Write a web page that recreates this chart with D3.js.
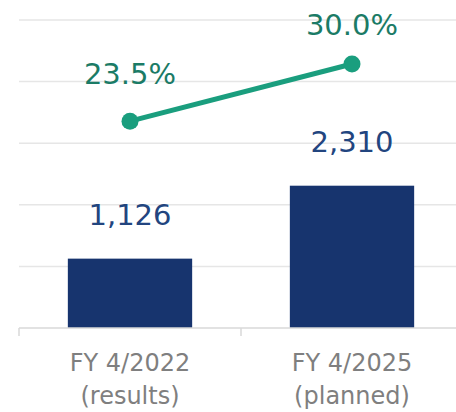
<!DOCTYPE html>
<html>
<head>
<meta charset="utf-8">
<script src="https://cdn.jsdelivr.net/npm/d3@7"></script>
<style>
  html, body { margin: 0; padding: 0; background: #fff; }
  svg { display: block; font-family: "DejaVu Sans", Verdana, sans-serif; }
</style>
</head>
<body>
<svg id="chart" width="456" height="412"></svg>
<script>
// Fiscal years shown on the category axis (two lines each)
const categories = ["FY 4/2022", "FY 4/2025"];
const categoryNotes = ["(results)", "(planned)"];
// Bar series (left axis) and ratio series (right axis, in %)
const barValues = [1126, 2310];
const ratioValues = [23.5, 30.0];
// Gridline ticks for the left axis
const barTicks = [0, 1000, 2000, 3000, 4000, 5000];

const svg = d3.select("#chart");
const plot = { left: 19, right: 463, top: 20, bottom: 328 };

const x = d3.scaleBand()
  .domain(categories)
  .range([plot.left, plot.right])
  .padding(0);

const y = d3.scaleLinear().domain([0, 5000]).range([plot.bottom, plot.top]);
const y2 = d3.scaleLinear().domain([0, 35]).range([plot.bottom, plot.top]);

const barWidth = x.bandwidth() * 0.56;
const cx = c => x(c) + x.bandwidth() / 2;

// horizontal gridlines
svg.append("g")
  .selectAll("line")
  .data(barTicks.filter(t => t > 0))
  .join("line")
  .attr("x1", plot.left).attr("x2", plot.right)
  .attr("y1", d => y(d)).attr("y2", d => y(d))
  .attr("stroke", "#e6e6e6")
  .attr("stroke-width", 1.5);

// bars
svg.append("g")
  .selectAll("rect")
  .data(barValues)
  .join("rect")
  .attr("x", (d, i) => cx(categories[i]) - barWidth / 2)
  .attr("y", d => y(d))
  .attr("width", barWidth)
  .attr("height", d => y(0) - y(d))
  .attr("fill", "#17346e");

// category axis with tick marks on the band boundaries
const xAxis = svg.append("g").attr("transform", `translate(0,${plot.bottom})`);
xAxis.append("line")
  .attr("x1", plot.left).attr("x2", plot.right)
  .attr("y1", 0).attr("y2", 0)
  .attr("stroke", "#d9d9d9").attr("stroke-width", 1.5);
xAxis.selectAll("line.tick")
  .data(categories.map(c => x(c)).concat([x(categories[categories.length - 1]) + x.bandwidth()]))
  .join("line")
  .attr("class", "tick")
  .attr("x1", d => d).attr("x2", d => d)
  .attr("y1", 0).attr("y2", 8)
  .attr("stroke", "#d9d9d9").attr("stroke-width", 1.5);

const labels = svg.append("g")
  .attr("fill", "#7f7f7f")
  .attr("font-size", 24)
  .attr("text-anchor", "middle");
labels.selectAll("text.cat")
  .data(categories)
  .join("text")
  .attr("class", "cat")
  .attr("x", d => cx(d))
  .attr("y", 371)
  .text(d => d);
labels.selectAll("text.note")
  .data(categoryNotes)
  .join("text")
  .attr("class", "note")
  .attr("x", (d, i) => cx(categories[i]))
  .attr("y", 404)
  .text(d => d);

// bar value labels
svg.append("g")
  .selectAll("text")
  .data(barValues)
  .join("text")
  .attr("x", (d, i) => cx(categories[i]))
  .attr("y", d => y(d) - 34)
  .attr("text-anchor", "middle")
  .attr("font-size", 29)
  .attr("fill", "#22457f")
  .text(d => d3.format(",")(d));

// ratio line with markers
const line = d3.line()
  .x((d, i) => cx(categories[i]))
  .y(d => y2(d));
svg.append("path")
  .datum(ratioValues)
  .attr("d", line)
  .attr("fill", "none")
  .attr("stroke", "#1a9e7e")
  .attr("stroke-width", 5);
svg.append("g")
  .selectAll("circle")
  .data(ratioValues)
  .join("circle")
  .attr("cx", (d, i) => cx(categories[i]))
  .attr("cy", d => y2(d))
  .attr("r", 8.5)
  .attr("fill", "#1a9e7e");

// ratio labels, kept inside the top of the chart area
svg.append("g")
  .selectAll("text")
  .data(ratioValues)
  .join("text")
  .attr("x", (d, i) => cx(categories[i]))
  .attr("y", d => Math.max(y2(d) - 37, 35))
  .attr("text-anchor", "middle")
  .attr("font-size", 29)
  .attr("fill", "#1b7b66")
  .text(d => d3.format(".1f")(d) + "%");
</script>
</body>
</html>
